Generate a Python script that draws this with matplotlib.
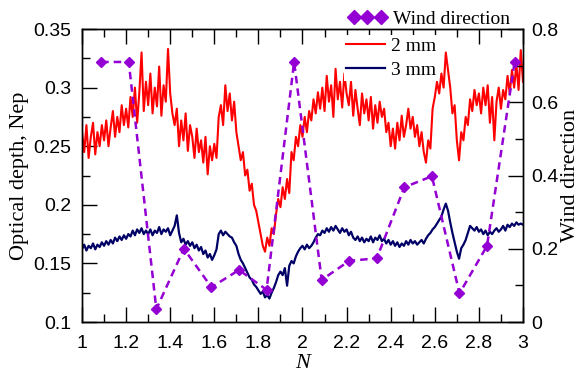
import numpy as np
import matplotlib
matplotlib.use("Agg")
import matplotlib.pyplot as plt
from matplotlib.ticker import MultipleLocator

# Data (x step 0.01 from 1 to 3)
n_values = np.round(np.arange(1.0, 3.001, 0.01), 2)

depth_2mm = [
    0.262, 0.245, 0.268, 0.240, 0.258, 0.270, 0.243, 0.262, 0.250, 0.268,
    0.255, 0.272, 0.250, 0.266, 0.280, 0.258, 0.275, 0.262, 0.285, 0.268,
    0.282, 0.266, 0.292, 0.275, 0.300, 0.270, 0.296, 0.330, 0.280, 0.305,
    0.285, 0.312, 0.278, 0.300, 0.284, 0.318, 0.276, 0.302, 0.288, 0.333,
    0.295, 0.278, 0.268, 0.282, 0.250, 0.272, 0.255, 0.278, 0.246, 0.268,
    0.258, 0.240, 0.265, 0.245, 0.255, 0.236, 0.258, 0.226, 0.250, 0.238,
    0.252, 0.240, 0.275, 0.285, 0.268, 0.302, 0.280, 0.295, 0.272, 0.288,
    0.262, 0.250, 0.238, 0.245, 0.225, 0.230, 0.212, 0.218, 0.200, 0.195,
    0.185, 0.175, 0.165, 0.160, 0.172, 0.165, 0.180, 0.175, 0.192, 0.205,
    0.198, 0.215, 0.205, 0.222, 0.210, 0.245, 0.238, 0.258, 0.250, 0.268,
    0.258, 0.275, 0.262, 0.280, 0.272, 0.290, 0.278, 0.296, 0.282, 0.300,
    0.280, 0.310, 0.288, 0.302, 0.275, 0.316, 0.290, 0.305, 0.283, 0.312,
    0.295, 0.285, 0.305, 0.276, 0.298, 0.282, 0.268, 0.295, 0.278, 0.290,
    0.272, 0.292, 0.265, 0.285, 0.270, 0.288, 0.275, 0.282, 0.262, 0.270,
    0.250, 0.265, 0.248, 0.270, 0.255, 0.276, 0.258, 0.268, 0.282, 0.265,
    0.275, 0.258, 0.268, 0.250, 0.262, 0.245, 0.236, 0.255, 0.248, 0.282,
    0.292, 0.305, 0.295, 0.312, 0.300, 0.330, 0.315, 0.300, 0.278, 0.285,
    0.255, 0.238, 0.262, 0.255, 0.275, 0.268, 0.290, 0.280, 0.298, 0.285,
    0.295, 0.278, 0.300, 0.285, 0.302, 0.270, 0.292, 0.255, 0.288, 0.300,
    0.282, 0.298, 0.290, 0.310, 0.295, 0.315, 0.300, 0.320, 0.298, 0.332,
    0.305,
]

depth_3mm = [
    0.162, 0.166, 0.161, 0.165, 0.163, 0.167, 0.162, 0.166, 0.164, 0.168,
    0.165, 0.169, 0.166, 0.170, 0.167, 0.172, 0.169, 0.173, 0.170, 0.174,
    0.171, 0.175, 0.173, 0.178, 0.174, 0.179, 0.176, 0.180, 0.175, 0.178,
    0.175, 0.179, 0.174, 0.178, 0.176, 0.181, 0.175, 0.179, 0.177, 0.180,
    0.174, 0.178, 0.182, 0.191, 0.176, 0.168, 0.171, 0.166, 0.169, 0.165,
    0.168, 0.163, 0.166, 0.161, 0.164, 0.158, 0.161, 0.155, 0.158, 0.153,
    0.157, 0.162, 0.175, 0.178, 0.174, 0.177, 0.175, 0.173, 0.172, 0.168,
    0.165, 0.158, 0.153, 0.150, 0.146, 0.142, 0.138, 0.136, 0.132, 0.130,
    0.127, 0.124, 0.126, 0.121, 0.123, 0.120, 0.125, 0.129, 0.134, 0.140,
    0.143, 0.140, 0.146, 0.131, 0.148, 0.152, 0.150, 0.156, 0.160, 0.163,
    0.165, 0.162, 0.166, 0.163, 0.165, 0.168, 0.172, 0.175, 0.174, 0.178,
    0.176, 0.180, 0.177, 0.181, 0.178, 0.182, 0.179, 0.176, 0.180, 0.177,
    0.179, 0.174, 0.177, 0.172, 0.170, 0.173, 0.169, 0.172, 0.168, 0.171,
    0.169, 0.173, 0.168, 0.172, 0.170, 0.174, 0.169, 0.171, 0.167, 0.170,
    0.166, 0.169, 0.165, 0.168, 0.164, 0.167, 0.165, 0.169, 0.166, 0.170,
    0.167, 0.169, 0.166, 0.168, 0.170, 0.167, 0.171, 0.174, 0.176, 0.179,
    0.181, 0.184, 0.187, 0.190, 0.196, 0.201, 0.195, 0.185, 0.176, 0.168,
    0.160, 0.154, 0.163, 0.166, 0.170, 0.176, 0.182, 0.180, 0.178, 0.181,
    0.177, 0.179, 0.175, 0.178, 0.174, 0.177, 0.175, 0.178, 0.180, 0.177,
    0.179, 0.182, 0.178, 0.183, 0.181, 0.184, 0.182, 0.185, 0.183, 0.184,
    0.183,
]

wind_n = [1.087, 1.212, 1.337, 1.462, 1.587, 1.712, 1.837, 1.962,
          2.087, 2.212, 2.337, 2.462, 2.587, 2.712, 2.837, 2.962]
wind_dir = [0.71, 0.71, 0.035, 0.20, 0.095, 0.142, 0.088, 0.71,
            0.115, 0.167, 0.174, 0.368, 0.398, 0.078, 0.208, 0.71]

purple = "#9400D3"
serif = "Liberation Serif"
sans = "Liberation Sans"

fig = plt.figure(figsize=(5.8, 3.72), dpi=100)
ax1 = fig.add_axes([0.1414, 0.1344, 0.7603, 0.7876])
ax2 = ax1.twinx()

l2, = ax1.plot(n_values, depth_2mm, color="#FF0000", lw=1.5, label="2 mm")
l3, = ax1.plot(n_values, depth_3mm, color="#000066", lw=1.6, label="3 mm")
lw_, = ax2.plot(wind_n, wind_dir, color=purple, lw=1.8, dashes=(3, 2),
                marker="D", ms=5, mec=purple, label="Wind direction")

ax1.set_xlim(1, 3)
ax1.set_ylim(0.1, 0.35)
ax2.set_ylim(0, 0.8)

ax1.xaxis.set_major_locator(MultipleLocator(0.2))
ax1.xaxis.set_minor_locator(MultipleLocator(0.1))
ax1.yaxis.set_major_locator(MultipleLocator(0.05))
ax1.yaxis.set_minor_locator(MultipleLocator(0.025))
ax2.yaxis.set_major_locator(MultipleLocator(0.2))
ax2.yaxis.set_minor_locator(MultipleLocator(0.1))

ax1.tick_params(which="both", direction="in", top=True, right=False, width=1)
ax1.tick_params(which="major", length=10.5, labelsize=14)
ax1.tick_params(which="minor", length=5.5)
ax1.tick_params(axis="x", which="major", pad=9.5)
ax1.tick_params(axis="y", which="major", pad=7.5)
ax2.tick_params(which="both", direction="in", width=1)
ax2.tick_params(which="major", length=10.5, labelsize=14, pad=6)
ax2.tick_params(which="minor", length=5.5)

for lab in ax1.get_xticklabels() + ax1.get_yticklabels() + ax2.get_yticklabels():
    lab.set_family(sans)

ax1.xaxis.set_major_formatter(plt.FuncFormatter(lambda v, p: f"{v:g}"))
ax1.yaxis.set_major_formatter(plt.FuncFormatter(lambda v, p: f"{v:g}"))
ax2.yaxis.set_major_formatter(plt.FuncFormatter(lambda v, p: f"{v:g}"))

for sp in list(ax1.spines.values()) + list(ax2.spines.values()):
    sp.set_linewidth(1.0)

ax1.set_xlabel("N", family=serif, style="italic", fontsize=16, labelpad=1)
ax1.set_ylabel("Optical depth, Nep", family=serif, fontsize=16, labelpad=3)
ax2.set_ylabel("Wind direction", family=serif, fontsize=16, labelpad=2)

leg1 = ax1.legend(handles=[l2, l3], loc="upper left",
                  bbox_to_anchor=(344 / 580, 1 - 35 / 372), bbox_transform=fig.transFigure,
                  prop={"family": serif, "size": 14}, frameon=True, fancybox=False,
                  edgecolor="none", facecolor="white", framealpha=1,
                  handlelength=2.0, handletextpad=0.3, labelspacing=0.35,
                  borderpad=0.1, borderaxespad=0)
leg2 = ax2.legend(handles=[lw_], loc="center left",
                  bbox_to_anchor=(346 / 580, 1 - 19 / 372), bbox_transform=fig.transFigure,
                  prop={"family": serif, "size": 14}, frameon=False,
                  numpoints=3, markerscale=1.5,
                  handlelength=2.0, handletextpad=0.3, borderpad=0.1, borderaxespad=0)

fig.savefig("out.png", dpi=100)
